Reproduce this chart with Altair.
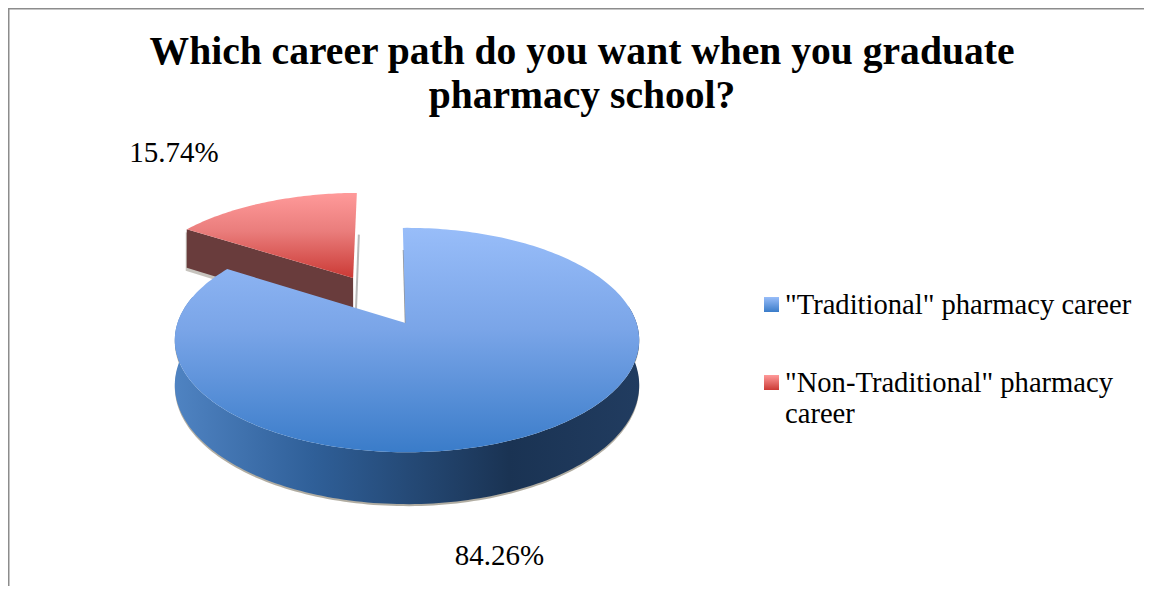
import math
import altair as alt
import pandas as pd

TITLE_LINES = ["Which career path do you want when you graduate", "pharmacy school?"]
CATEGORIES = ['"Traditional" pharmacy career', '"Non-Traditional" pharmacy career']
LEGEND_LINES = [['"Traditional" pharmacy career'], ['"Non-Traditional" pharmacy', "career"]]
SHARES = [84.26, 15.74]
LABELS = ["84.26%", "15.74%"]

FONT = "Liberation Serif"
W, H = 1136, 578
X = alt.Scale(domain=[8, 8 + W], range=[0, W], nice=False, zero=False)
Y = alt.Scale(domain=[8, 8 + H], range=[0, H], nice=False, zero=False)

# perspective ellipse of the pie
CX, CY, A, B, K, DEPTH = 405.5, 323.0, 229.5, 109.6, 0.152, 44.0
RIM_SHIFT = 1.5
RED_SHIFT = -1.5
ROT = -1.2
red_sweep = SHARES[1] / sum(SHARES) * 360


def proj(u, v, z=0.0, shift=0.0):
    d = 1 - K * v
    return CX + shift + A * u / d, CY + (B * v + z) / d


def rim(t):
    r = math.radians(t)
    return math.sin(r), -math.cos(r)


def grad_v(stops):
    return alt.Gradient(gradient="linear", x1=0, x2=0, y1=0, y2=1,
                        stops=[alt.GradientStop(offset=o, color=c) for o, c in stops])


def grad_h(stops):
    return alt.Gradient(gradient="linear", x1=0, x2=1, y1=0, y2=0,
                        stops=[alt.GradientStop(offset=o, color=c) for o, c in stops])


def poly(points, fill, opacity=1.0):
    df = pd.DataFrame({"x": [p[0] for p in points], "y": [p[1] for p in points],
                       "i": range(len(points))})
    return alt.Chart(df).mark_line(filled=True, fill=fill, strokeWidth=0, opacity=opacity,
                                   interpolate="linear").encode(
        x=alt.X("x:Q", scale=X, axis=None),
        y=alt.Y("y:Q", scale=Y, axis=None),
        order=alt.Order("i:Q"))


def line(points, color, width, opacity=1.0):
    df = pd.DataFrame({"x": [p[0] for p in points], "y": [p[1] for p in points],
                       "i": range(len(points))})
    return alt.Chart(df).mark_line(color=color, strokeWidth=width, opacity=opacity).encode(
        x=alt.X("x:Q", scale=X, axis=None),
        y=alt.Y("y:Q", scale=Y, axis=None),
        order=alt.Order("i:Q"))


def texts(rows, size, weight="normal", align="center"):
    return alt.Chart(pd.DataFrame(rows)).mark_text(
        font=FONT, fontSize=size, fontWeight=weight, align=align, baseline="middle", color="#000000"
    ).encode(x=alt.X("x:Q", scale=X, axis=None), y=alt.Y("y:Q", scale=Y, axis=None), text="t:N")


# --- blue slice ---
start, end = ROT, ROT + 360 - red_sweep
steps = [start + (end - start) * i / 240 for i in range(241)]
blue_top = [proj(0, 0)] + [proj(*rim(t), 0.0, RIM_SHIFT) for t in steps]
front = [t for t in steps if 80 <= t <= 285]
wall_top = [proj(*rim(t), 0.0, RIM_SHIFT) for t in front]
wall_bot = [proj(*rim(t), DEPTH, RIM_SHIFT) for t in reversed(front)]
blue_wall = wall_top + wall_bot
shadow = [(x, y + 2) for x, y in blue_wall]

# --- red slice, pulled out along its own middle ---
mid = math.radians(360 - red_sweep / 2)
E = 0.4985
R = 1.01
u0, v0 = E * math.sin(mid), -E * math.cos(mid)
rsteps = [359.2 - red_sweep + red_sweep * i / 60 for i in range(61)]
red_pts = [(u0 + R * rim(t)[0], v0 + R * rim(t)[1]) for t in rsteps]
red_top = [proj(u0, v0, 0.0, RED_SHIFT)] + [proj(u, v, 0.0, RED_SHIFT) for u, v in red_pts]
ul, vl = red_pts[0]
red_wall = [proj(u0, v0, 0.0, RED_SHIFT), proj(ul, vl, 0.0, RED_SHIFT),
            proj(ul, vl, DEPTH, RED_SHIFT), proj(u0, v0, DEPTH, RED_SHIFT)]
red_shadow = [(x - 1, y + 3) for x, y in red_wall]

# inner-edge shading
blue_edge = [proj(0, 0), (403.5, 250)]
red_edge = [(x + 2.5, y) for x, y in (proj(u0, v0, DEPTH, RED_SHIFT), proj(u0, v0 - 0.48, 0.0, RED_SHIFT))]

BLUE_FACE = grad_v([(0, "#98bdf9"), (0.45, "#7aa5e8"), (1, "#3a7cc9")])
BLUE_WALL = grad_h([(0, "#4f83c2"), (0.3, "#2f5f98"), (0.72, "#1a3353"), (1, "#213c60")])
RED_FACE = grad_v([(0, "#ff9a9a"), (0.45, "#ea7d7c"), (1, "#cb3a35")])

frame = [
    line([(8.5, 8 + H), (8.5, 8.5), (8 + W, 8.5)], "#8c8c8c", 2),
]

legend_rows = []
legend_swatches = []
ys = [305, 383]
for lines, y0, grad in zip(LEGEND_LINES, ys, (
        grad_v([(0, "#98bdf9"), (1, "#3a7cc9")]), grad_v([(0, "#ff9a9a"), (1, "#cb3a35")]))):
    for j, t in enumerate(lines):
        legend_rows.append({"x": 785, "y": y0 + j * 30.5, "t": t})
    legend_swatches.append(poly([(764, y0 - 8), (779, y0 - 8), (779, y0 + 7), (764, y0 + 7)], grad))

layers = frame + [
    poly(red_shadow, "#b8b4ac", 0.8),
    poly(red_wall, "#693c3c"),
    poly(red_top, RED_FACE),
    line(red_edge, "#8a8a8a", 2, 0.6),
    poly(shadow, "#a8a498", 0.9),
    poly(blue_wall, BLUE_WALL),
    line(blue_edge, "#666666", 1.5, 0.7),
    poly(blue_top, BLUE_FACE),
    texts([{"x": 582, "y": 52, "t": TITLE_LINES[0]}, {"x": 582, "y": 96, "t": TITLE_LINES[1]}], 39.6, "bold"),
    texts([{"x": 174, "y": 153, "t": LABELS[1]}, {"x": 499.5, "y": 556, "t": LABELS[0]}], 29),
    texts(legend_rows, 28.6, align="left"),
] + legend_swatches

chart = alt.layer(*layers).properties(
    width=W, height=H, padding=0, background="#ffffff", autosize=alt.AutoSizeParams(type="none")
).configure_view(strokeWidth=0)

chart.save("out.html", embed_options={"renderer": "svg", "actions": False})
